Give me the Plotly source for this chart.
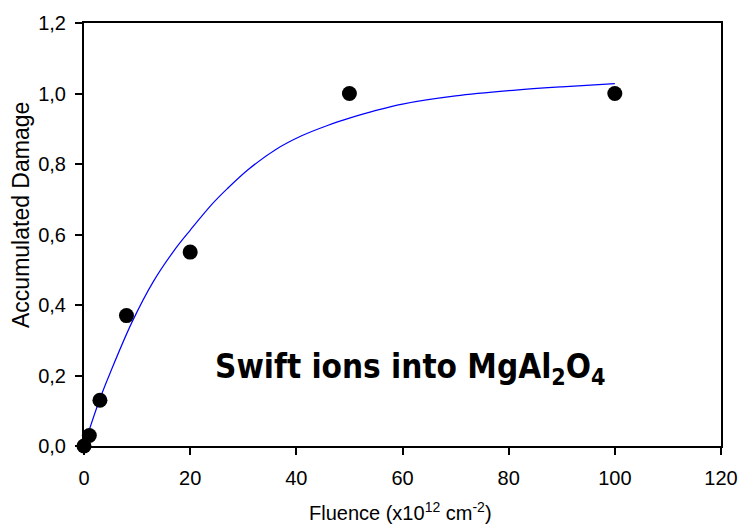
import plotly.graph_objects as go

# Measured accumulated damage vs. fluence
fluence = [0, 1, 3, 8, 20, 50, 100]
damage = [0.0, 0.03, 0.13, 0.37, 0.55, 1.0, 1.0]

# Saturating fit curve, sampled along the fluence range
fit_fluence = [0, 3, 5, 9, 13, 17, 20, 24, 27, 31, 36, 41, 46, 50, 55, 60, 70, 80, 90, 100]
fit_damage = [0.0, 0.134, 0.210, 0.350, 0.465, 0.555, 0.612, 0.684, 0.730, 0.785,
              0.840, 0.880, 0.910, 0.930, 0.952, 0.970, 0.993, 1.008, 1.019, 1.028]

x_ticks = [0, 20, 40, 60, 80, 100, 120]
y_ticks = [0.0, 0.2, 0.4, 0.6, 0.8, 1.0, 1.2]

font_family = "Liberation Sans, Arial, sans-serif"

fig = go.Figure()

fig.add_trace(go.Scatter(
    x=fit_fluence, y=fit_damage, mode="lines",
    line=dict(color="#0000ff", width=1.2, shape="spline", smoothing=1.0),
    showlegend=False, hoverinfo="skip",
))

fig.add_trace(go.Scatter(
    x=fluence, y=damage, mode="markers",
    marker=dict(color="black", size=15, line=dict(width=0)),
    showlegend=False, cliponaxis=False,
))

# In-plot label
fig.add_annotation(
    x=61.5, y=0.22, xref="x", yref="y",
    text="<b>Swift ions into MgAl<sub>2</sub>O<sub>4</sub></b>",
    showarrow=False,
    font=dict(family="DejaVu Sans Condensed, Liberation Sans Narrow, Arial Narrow, sans-serif",
              size=33, color="black"),
)

# Axis titles
fig.add_annotation(
    x=-0.099, y=0.546, xref="paper", yref="paper",
    xanchor="center", yanchor="middle", textangle=-90,
    text="Accumulated Damage", showarrow=False,
    font=dict(family=font_family, size=23, color="black"),
)
fig.add_annotation(
    x=0.497, y=-0.190, xref="paper", yref="paper",
    xanchor="center", yanchor="bottom",
    text="Fluence (x10<sup>12</sup> cm<sup>-2</sup>)", showarrow=False,
    font=dict(family=font_family, size=20, color="black"),
)

axis_common = dict(
    showline=True, linecolor="black", linewidth=2, mirror=True,
    ticks="outside", ticklen=7, tickwidth=1.5, tickcolor="black",
    showgrid=False, zeroline=False, ticklabeloverflow="allow",
    tickfont=dict(family=font_family, size=20, color="black"),
)

fig.update_xaxes(
    range=[0, 120], tickvals=x_ticks, ticktext=[str(v) for v in x_ticks],
    ticklabelstandoff=6,
    **axis_common,
)
fig.update_yaxes(
    range=[0, 1.2], tickvals=y_ticks, tickformat=".1f",
    ticklabelstandoff=5,
    **axis_common,
)

fig.update_layout(
    width=750, height=527,
    margin=dict(l=84, r=18, t=21, b=81),
    paper_bgcolor="white", plot_bgcolor="white",
    separators=",.",
)

fig.write_html("out.html")
